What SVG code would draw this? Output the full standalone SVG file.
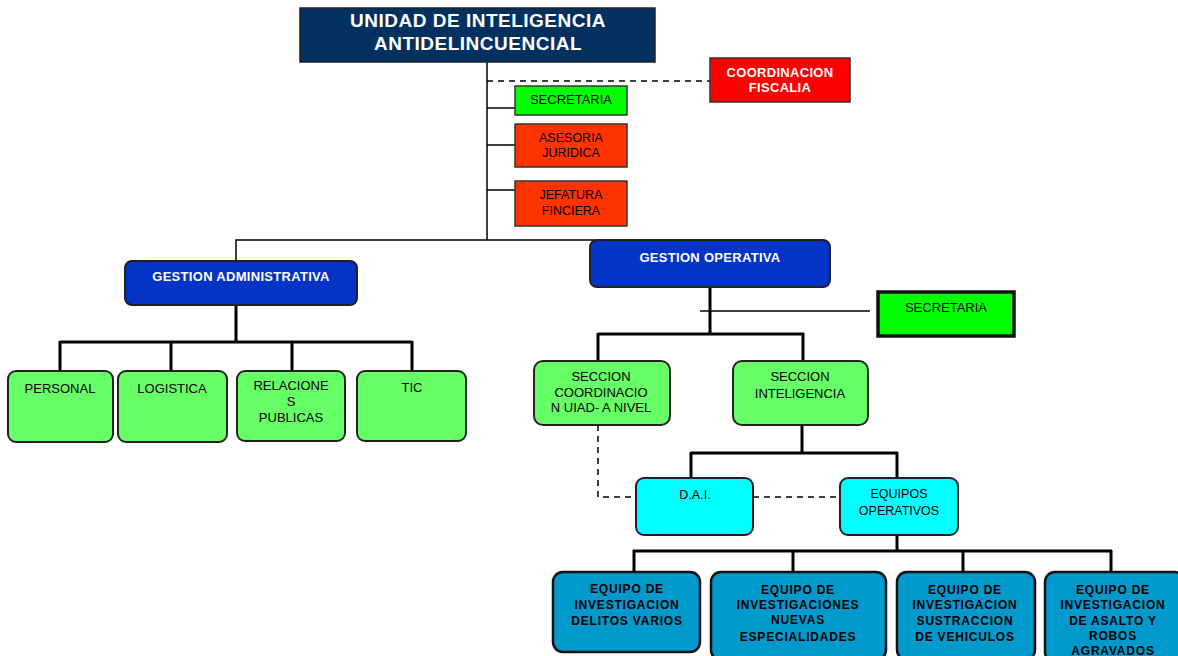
<svg xmlns="http://www.w3.org/2000/svg" width="1178" height="656" viewBox="0 0 1178 656">
<style>
text{font-family:"Liberation Sans",Arial,sans-serif;text-anchor:middle}
.w{fill:#fff;font-weight:bold;letter-spacing:0.3px}
.b{fill:#000}
.bb{fill:#000;font-weight:bold;letter-spacing:0.8px}
.ln{stroke:#000;stroke-width:1.5;fill:none}
.tk{stroke:#000;stroke-width:3;fill:none}
.ds{stroke:#000;stroke-width:1.5;fill:none;stroke-dasharray:6 5}
.lg{fill:#66ff66;stroke:#222;stroke-width:2}
.cy{fill:#00ffff;stroke:#222;stroke-width:2}
.bl{fill:#0099cc;stroke:#111;stroke-width:2.5}
.db{fill:#0433c8;stroke:#222;stroke-width:2}
</style>
<rect width="1178" height="656" fill="#fff"/>
<g id="connectors">
<line class="ln" x1="487" y1="62" x2="487" y2="240"/>
<line class="ds" x1="487" y1="81" x2="710" y2="81"/>
<line class="ln" x1="487" y1="108" x2="515" y2="108"/>
<line class="ln" x1="487" y1="145" x2="515" y2="145"/>
<line class="ln" x1="487" y1="190" x2="515" y2="190"/>
<polyline class="ln" points="236,261 236,240 595,240"/>
<line class="tk" x1="236" y1="305" x2="236" y2="342"/>
<line class="tk" x1="60" y1="342" x2="412" y2="342"/>
<line class="tk" x1="60" y1="341" x2="60" y2="371"/>
<line class="tk" x1="171" y1="341" x2="171" y2="371"/>
<line class="tk" x1="292" y1="341" x2="292" y2="371"/>
<line class="tk" x1="412" y1="341" x2="412" y2="371"/>
<line class="tk" x1="710" y1="287" x2="710" y2="335"/>
<line class="ln" x1="700" y1="311" x2="870" y2="311"/>
<line class="tk" x1="598" y1="334" x2="804" y2="334"/>
<line class="tk" x1="598" y1="333" x2="598" y2="361"/>
<line class="tk" x1="803" y1="333" x2="803" y2="361"/>
<line class="tk" x1="802" y1="425" x2="802" y2="454"/>
<line class="tk" x1="691" y1="453" x2="898" y2="453"/>
<line class="tk" x1="691" y1="452" x2="691" y2="478"/>
<line class="tk" x1="897" y1="452" x2="897" y2="478"/>
<polyline class="ds" points="598,425 598,497 636,497"/>
<line class="ds" x1="753" y1="497" x2="840" y2="497"/>
<line class="tk" x1="897" y1="535" x2="897" y2="552"/>
<line class="tk" x1="633" y1="551" x2="1112" y2="551"/>
<line class="tk" x1="634" y1="550" x2="634" y2="572"/>
<line class="tk" x1="793" y1="550" x2="793" y2="572"/>
<line class="tk" x1="963" y1="550" x2="963" y2="572"/>
<line class="tk" x1="1111" y1="550" x2="1111" y2="572"/>
</g>
<g id="n-unidad">
<rect x="300" y="8" width="355" height="54" fill="#02315f" stroke="#222" stroke-width="1.5"/>
<text class="w" x="478" y="27" font-size="19" style="letter-spacing:0.5px">UNIDAD DE INTELIGENCIA</text>
<text class="w" x="478" y="50" font-size="19" style="letter-spacing:0.5px">ANTIDELINCUENCIAL</text>
</g>
<g id="n-coordinacion">
<rect x="710" y="58" width="140" height="44" fill="#ff0000" stroke="#333" stroke-width="1.5"/>
<text class="w" x="780" y="77" font-size="13">COORDINACION</text>
<text class="w" x="780" y="92" font-size="13">FISCALIA</text>
</g>
<g id="n-secretaria1">
<rect x="515" y="86" width="112" height="29" fill="#00ff00" stroke="#333" stroke-width="1.5"/>
<text class="b" x="571" y="104" font-size="13">SECRETARIA</text>
</g>
<g id="n-asesoria">
<rect x="515" y="124" width="112" height="43" fill="#ff3300" stroke="#333" stroke-width="1.5"/>
<text class="b" x="571" y="142" font-size="12.5">ASESORIA</text>
<text class="b" x="571" y="157" font-size="12.5">JURIDICA</text>
</g>
<g id="n-jefatura">
<rect x="515" y="181" width="112" height="45" fill="#ff3300" stroke="#333" stroke-width="1.5"/>
<text class="b" x="571" y="199" font-size="12.5">JEFATURA</text>
<text class="b" x="571" y="215" font-size="12.5">FINCIERA</text>
</g>
<g id="n-gadmin">
<rect class="db" x="125" y="261" width="232" height="44" rx="7"/>
<text class="w" x="241" y="281" font-size="13">GESTION ADMINISTRATIVA</text>
</g>
<g id="n-personal">
<rect class="lg" x="8" y="371" width="105" height="71" rx="8"/>
<text class="b" x="60" y="393" font-size="13">PERSONAL</text>
</g>
<g id="n-logistica">
<rect class="lg" x="118" y="371" width="109" height="71" rx="8"/>
<text class="b" x="172" y="393" font-size="13">LOGISTICA</text>
</g>
<g id="n-relaciones">
<rect class="lg" x="237" y="371" width="108" height="70" rx="8"/>
<text class="b" x="291" y="390" font-size="13">RELACIONE</text>
<text class="b" x="291" y="406" font-size="13">S</text>
<text class="b" x="291" y="422" font-size="13">PUBLICAS</text>
</g>
<g id="n-tic">
<rect class="lg" x="357" y="371" width="109" height="70" rx="8"/>
<text class="b" x="412" y="392" font-size="13">TIC</text>
</g>
<g id="n-goper">
<rect class="db" x="590" y="240" width="240" height="47" rx="7"/>
<text class="w" x="710" y="262" font-size="13">GESTION OPERATIVA</text>
</g>
<g id="n-secretaria2">
<rect x="878" y="292" width="136" height="44" fill="#00ff00" stroke="#111" stroke-width="3.5"/>
<text class="b" x="946" y="312" font-size="13">SECRETARIA</text>
</g>
<g id="n-seccoord">
<rect class="lg" x="534" y="361" width="136" height="64" rx="9"/>
<text class="b" x="601" y="381" font-size="13">SECCION</text>
<text class="b" x="601" y="397" font-size="13">COORDINACIO</text>
<text class="b" x="601" y="412" font-size="13">N UIAD- A NIVEL</text>
</g>
<g id="n-secintel">
<rect class="lg" x="733" y="361" width="135" height="64" rx="9"/>
<text class="b" x="800" y="381" font-size="13">SECCION</text>
<text class="b" x="800" y="398" font-size="13">INTELIGENCIA</text>
</g>
<g id="n-dai">
<rect class="cy" x="636" y="478" width="117" height="57" rx="8"/>
<text class="b" x="695" y="499" font-size="12.5">D.A.I.</text>
</g>
<g id="n-equipos">
<rect class="cy" x="840" y="478" width="118" height="57" rx="8"/>
<text class="b" x="899" y="498" font-size="12.5">EQUIPOS</text>
<text class="b" x="899" y="515" font-size="12.5">OPERATIVOS</text>
</g>
<g id="n-eq1">
<rect class="bl" x="553" y="572" width="147" height="80" rx="10"/>
<text class="bb" x="627" y="593" font-size="12">EQUIPO DE</text>
<text class="bb" x="627" y="609" font-size="12">INVESTIGACION</text>
<text class="bb" x="627" y="625" font-size="12">DELITOS VARIOS</text>
</g>
<g id="n-eq2">
<rect class="bl" x="711" y="572" width="175" height="88" rx="10"/>
<text class="bb" x="798" y="594" font-size="12">EQUIPO DE</text>
<text class="bb" x="798" y="609" font-size="12">INVESTIGACIONES</text>
<text class="bb" x="798" y="624" font-size="12">NUEVAS</text>
<text class="bb" x="798" y="641" font-size="12">ESPECIALIDADES</text>
</g>
<g id="n-eq3">
<rect class="bl" x="897" y="572" width="138" height="88" rx="10"/>
<text class="bb" x="965" y="594" font-size="12">EQUIPO DE</text>
<text class="bb" x="965" y="609" font-size="12">INVESTIGACION</text>
<text class="bb" x="965" y="625" font-size="12">SUSTRACCION</text>
<text class="bb" x="965" y="641" font-size="12">DE VEHICULOS</text>
</g>
<g id="n-eq4">
<rect class="bl" x="1045" y="572" width="140" height="90" rx="10"/>
<text class="bb" x="1113" y="594" font-size="12">EQUIPO DE</text>
<text class="bb" x="1113" y="609" font-size="12">INVESTIGACION</text>
<text class="bb" x="1113" y="625" font-size="12">DE ASALTO Y</text>
<text class="bb" x="1113" y="640" font-size="12">ROBOS</text>
<text class="bb" x="1113" y="655" font-size="12">AGRAVADOS</text>
</g>
</svg>
